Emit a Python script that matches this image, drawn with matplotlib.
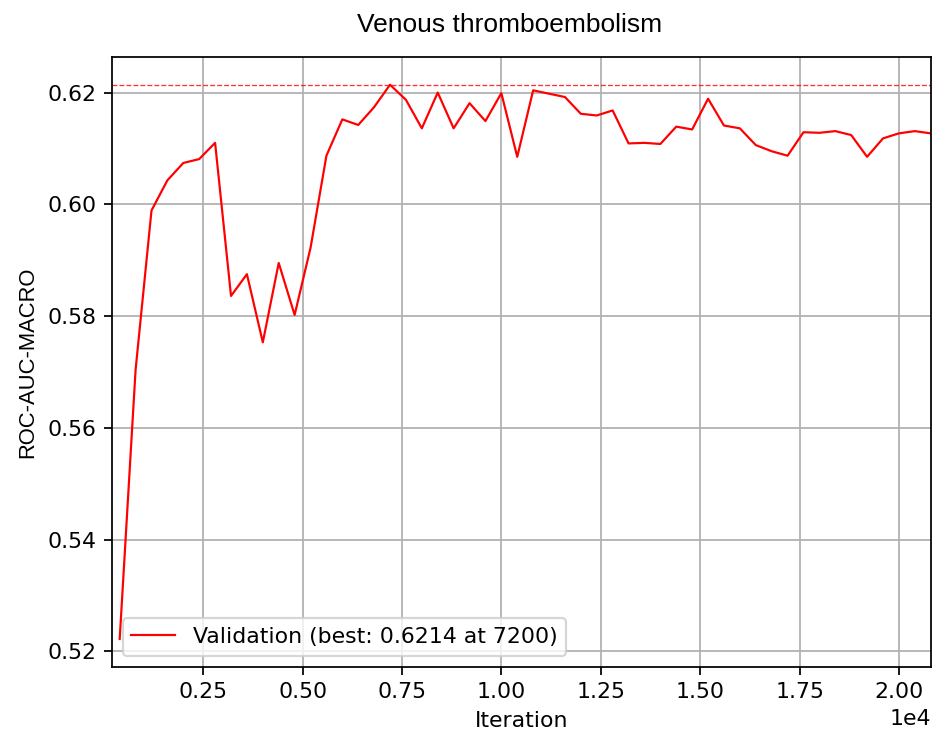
import numpy as np
import matplotlib
matplotlib.use("Agg")
import matplotlib.pyplot as plt

# validation ROC-AUC (macro) every 400 iterations
iterations = np.arange(400, 20801, 400)
val_auc = [
    0.5222, 0.5704, 0.5989, 0.6043, 0.6074, 0.6081, 0.6110, 0.5836, 0.5875, 0.5753,
    0.5895, 0.5802, 0.5922, 0.6087, 0.6152, 0.6142, 0.6174, 0.6214, 0.6187, 0.6136,
    0.6200, 0.6136, 0.6181, 0.6149, 0.6199, 0.6085, 0.6204, 0.6198, 0.6192, 0.6162,
    0.6159, 0.6168, 0.6109, 0.6110, 0.6108, 0.6139, 0.6134, 0.6189, 0.6141, 0.6136,
    0.6106, 0.6095, 0.6087, 0.6129, 0.6128, 0.6131, 0.6124, 0.6085, 0.6118, 0.6127,
    0.6131, 0.6127,
]
best_val = 0.6214
best_iter = 7200

xticks = [2500, 5000, 7500, 10000, 12500, 15000, 17500, 20000]
yticks = [0.52, 0.54, 0.56, 0.58, 0.60, 0.62]


def main():
    dpi = 158
    fig = plt.figure(figsize=(932 / dpi, 735 / dpi), dpi=dpi)
    ax = fig.add_axes([0.1199, 0.0929, 0.8787, 0.8295])

    ax.plot(iterations, val_auc, color="red", lw=1.0,
            label=f"Validation (best: {best_val:.4f} at {best_iter})")
    ax.axhline(best_val, color="red", ls="--", lw=0.6, alpha=0.8)

    ax.set_xlim(200, 20800)
    ax.set_xticks(xticks)
    ax.set_yticks(yticks)
    ax.ticklabel_format(axis="x", style="sci", scilimits=(0, 0))
    ax.grid(True)
    ax.set_xlabel("Iteration")
    ax.set_ylabel("ROC-AUC-MACRO", family="Liberation Sans", fontsize=10)
    ax.legend(loc="lower left")

    fig.text(509.5 / 932, 1 - 25 / 735, "Venous thromboembolism",
             family="Liberation Sans", fontsize=12, ha="center", va="center")

    fig.savefig("out.png", dpi=dpi)


if __name__ == "__main__":
    main()
